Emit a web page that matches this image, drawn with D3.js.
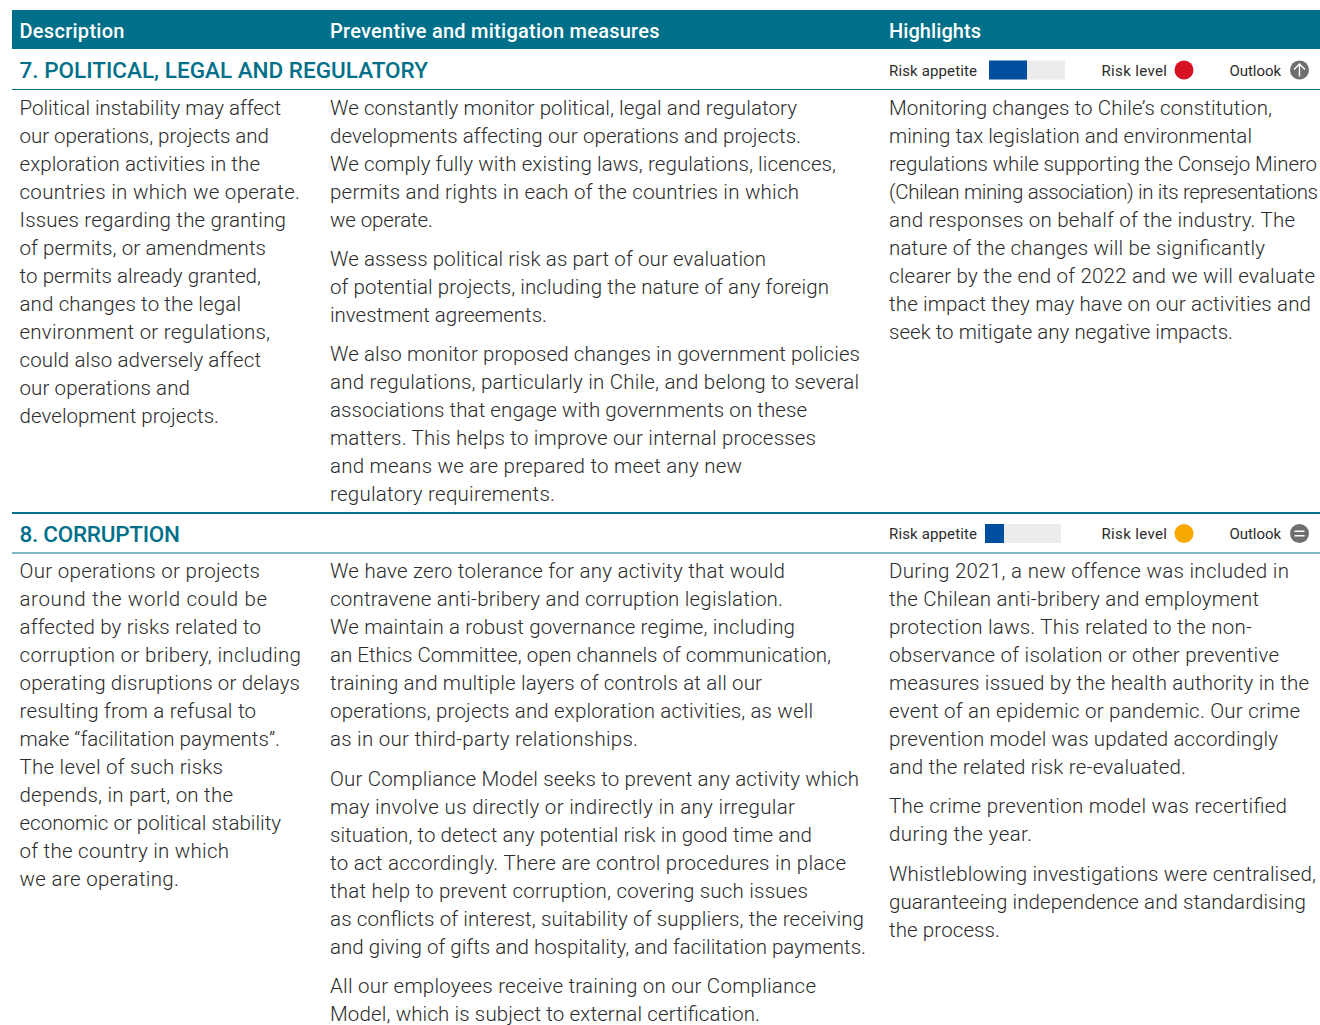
<!DOCTYPE html>
<html>
<head>
<meta charset="utf-8">
<script src="https://cdn.jsdelivr.net/npm/d3@7"></script>
<style>
  html, body { margin: 0; padding: 0; background: #fff; }
  svg { display: block; }
  text { font-family: Roboto, sans-serif; }
  .body { font-size: 20.5px; font-weight: 300; fill: #2b2b2b; }
  .head { font-size: 20px; font-weight: 500; fill: #fff; }
  .title { font-size: 22.5px; font-weight: 500; fill: #00708a; }
  .legend { font-size: 15px; font-weight: 400; fill: #2b2b2b; }
</style>
</head>
<body>
<div class="canva"></div>
<script>
const headers = ["Description", "Preventive and mitigation measures", "Highlights"];
const sectionTitles = ["7. POLITICAL, LEGAL AND REGULATORY", "8. CORRUPTION"];
const riskAppetite = [2, 1];
const riskColors = ["#d71124", "#f7a800"];
const outlook = ["up", "flat"];

const desc7 = [[
  "Political instability may affect", "our operations, projects and", "exploration activities in the",
  "countries in which we operate.", "Issues regarding the granting", "of permits, or amendments",
  "to permits already granted,", "and changes to the legal", "environment or regulations,",
  "could also adversely affect", "our operations and", "development projects."
]];
const measures7 = [[
  "We constantly monitor political, legal and regulatory", "developments affecting our operations and projects.",
  "We comply fully with existing laws, regulations, licences,", "permits and rights in each of the countries in which",
  "we operate."
], [
  "We assess political risk as part of our evaluation", "of potential projects, including the nature of any foreign",
  "investment agreements."
], [
  "We also monitor proposed changes in government policies", "and regulations, particularly in Chile, and belong to several",
  "associations that engage with governments on these", "matters. This helps to improve our internal processes",
  "and means we are prepared to meet any new", "regulatory requirements."
]];
const highlights7 = [[
  "Monitoring changes to Chile’s constitution,", "mining tax legislation and environmental",
  "regulations while supporting the Consejo Minero", "(Chilean mining association) in its representations",
  "and responses on behalf of the industry. The", "nature of the changes will be significantly",
  "clearer by the end of 2022 and we will evaluate", "the impact they may have on our activities and",
  "seek to mitigate any negative impacts."
]];
const desc8 = [[
  "Our operations or projects", "around the world could be", "affected by risks related to",
  "corruption or bribery, including", "operating disruptions or delays", "resulting from a refusal to",
  "make “facilitation payments”.", "The level of such risks", "depends, in part, on the",
  "economic or political stability", "of the country in which", "we are operating."
]];
const measures8 = [[
  "We have zero tolerance for any activity that would", "contravene anti-bribery and corruption legislation.",
  "We maintain a robust governance regime, including", "an Ethics Committee, open channels of communication,",
  "training and multiple layers of controls at all our", "operations, projects and exploration activities, as well",
  "as in our third-party relationships."
], [
  "Our Compliance Model seeks to prevent any activity which", "may involve us directly or indirectly in any irregular",
  "situation, to detect any potential risk in good time and", "to act accordingly. There are control procedures in place",
  "that help to prevent corruption, covering such issues", "as conflicts of interest, suitability of suppliers, the receiving",
  "and giving of gifts and hospitality, and facilitation payments."
], [
  "All our employees receive training on our Compliance", "Model, which is subject to external certification."
]];
const highlights8 = [[
  "During 2021, a new offence was included in", "the Chilean anti-bribery and employment",
  "protection laws. This related to the non-", "observance of isolation or other preventive",
  "measures issued by the health authority in the", "event of an epidemic or pandemic. Our crime",
  "prevention model was updated accordingly", "and the related risk re-evaluated."
], [
  "The crime prevention model was recertified", "during the year."
], [
  "Whistleblowing investigations were centralised,", "guaranteeing independence and standardising", "the process."
]];

// where each line ends in the page, the font here runs a bit different per line
const ends7 = [
  [281, 269, 260, 300, 286, 266, 261, 241, 270, 261, 190, 219],
  [797, 801, 836, 799, 433, 766, 829, 547, 860, 859, 807, 816, 742, 555],
  [1272, 1252, 1317, 1318, 1295, 1265, 1315, 1311, 1233]
];
const ends8 = [
  [260, 267, 261, 301, 300, 256, 280, 223, 233, 281, 229, 179],
  [785, 783, 795, 831, 762, 813, 638, 859, 795, 812, 846, 808, 864, 866, 816, 760],
  [1289, 1259, 1252, 1279, 1309, 1300, 1278, 1186, 1287, 1032, 1316, 1306, 1000]
];

const width = 1320, height = 1025;
const teal = "#00708a";
const colX = [19.5, 330, 889];
const lineStep = 28, paraGap = 11.2;

const svg = d3.select(".canva").append("svg")
    .attr("width", width)
    .attr("height", height);

svg.append("rect")
    .attr("x", 12).attr("y", 10)
    .attr("width", 1308).attr("height", 39)
    .attr("fill", teal);

const headEnds = [124.5, 659.5, 981];
svg.selectAll(".head")
    .data(headers)
    .enter().append("text")
    .attr("class", "head")
    .attr("x", (d, i) => colX[i])
    .attr("y", 37.5)
    .attr("textLength", (d, i) => headEnds[i] - colX[i])
    .text(d => d);

// section rules
const rules = [
    { y: 89.5, w: 1, c: teal },
    { y: 513, w: 2, c: teal },
    { y: 553, w: 2, c: "#7fb7c4" }
];
svg.selectAll(".rule")
    .data(rules)
    .enter().append("line")
    .attr("x1", 12).attr("x2", 1320)
    .attr("y1", d => d.y).attr("y2", d => d.y)
    .attr("stroke", d => d.c)
    .attr("stroke-width", d => d.w);

const appetiteW = d3.scaleLinear().domain([0, 4]).range([0, 76]);
const titleEnds = [428, 180];

function drawSection(i, titleY, legendY, barX, bodyY, columns, ends) {
    const g = svg.append("g");
    g.append("text").attr("class", "title")
        .attr("x", colX[0]).attr("y", titleY)
        .attr("textLength", titleEnds[i] - colX[0])
        .text(sectionTitles[i]);

    g.append("text").attr("class", "legend").attr("x", 889).attr("y", legendY + 5.5)
        .attr("textLength", 88).text("Risk appetite");
    g.append("rect").attr("x", barX).attr("y", legendY - 9.5)
        .attr("width", appetiteW(4)).attr("height", 19).attr("fill", "#ececec");
    g.append("rect").attr("x", barX).attr("y", legendY - 9.5)
        .attr("width", appetiteW(riskAppetite[i])).attr("height", 19).attr("fill", "#004f9f");

    g.append("text").attr("class", "legend").attr("x", 1101.5).attr("y", legendY + 5.5)
        .attr("textLength", 65.5).text("Risk level");
    g.append("circle").attr("cx", 1184).attr("cy", legendY).attr("r", 9.5).attr("fill", riskColors[i]);

    g.append("text").attr("class", "legend").attr("x", 1229.5).attr("y", legendY + 5.5)
        .attr("textLength", 51.5).text("Outlook");
    const icon = g.append("g").attr("transform", `translate(1299.5, ${legendY})`);
    icon.append("circle").attr("r", 9.5).attr("fill", "#6f6f6f");
    const sym = outlook[i] === "up" ? "M0,6.5V-6M-5.5,-0.5L0,-6L5.5,-0.5" : "M-5,-2.2H5M-5,2.2H5";
    icon.append("path").attr("d", sym).attr("fill", "none").attr("stroke", "#fff").attr("stroke-width", 1.4);

    // each column: paragraphs of ready-broken lines
    columns.forEach((paras, c) => {
        let y = bodyY[c];
        let n = 0;
        paras.forEach(lines => {
            lines.forEach(line => {
                g.append("text").attr("class", "body")
                    .attr("x", colX[c]).attr("y", y)
                    .attr("textLength", ends[c][n] - colX[c])
                    .text(line);
                y += lineStep;
                n++;
            });
            y += paraGap;
        });
    });
}

drawSection(0, 77.5, 70, 989, [115, 115, 115], [desc7, measures7, highlights7], ends7);
drawSection(1, 541.5, 533.5, 985, [578.1, 578.45, 578.1], [desc8, measures8, highlights8], ends8);
</script>
</body>
</html>
